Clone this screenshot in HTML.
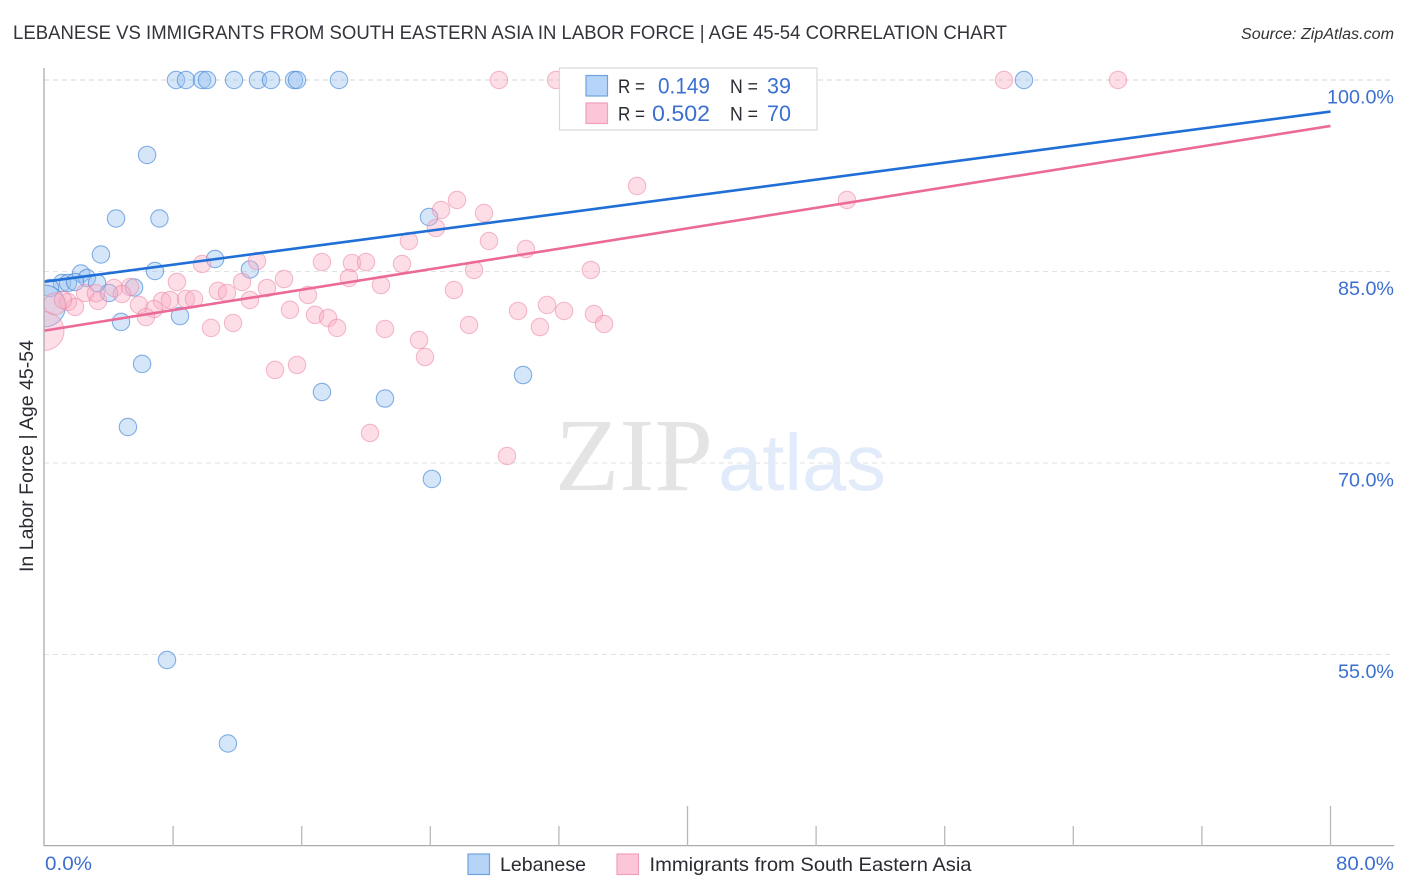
<!DOCTYPE html>
<html lang="en">
<head>
<meta charset="utf-8">
<title>Lebanese vs Immigrants from South Eastern Asia in Labor Force | Age 45-54 Correlation Chart</title>
<style>
html,body{margin:0;padding:0;background:#fff;width:1406px;height:892px;overflow:hidden}
svg{display:block;font-family:"Liberation Sans",sans-serif}
</style>
</head>
<body>
<svg id="chart" width="1406" height="892" viewBox="0 0 1406 892" xmlns="http://www.w3.org/2000/svg">
  <defs><clipPath id="plot-clip"><rect x="44" y="60" width="1350" height="786"/></clipPath></defs>
  <text x="13" y="39" font-size="19.5" fill="#33333b" textLength="994" lengthAdjust="spacingAndGlyphs">LEBANESE VS IMMIGRANTS FROM SOUTH EASTERN ASIA IN LABOR FORCE | AGE 45-54 CORRELATION CHART</text>
  <text x="1241" y="39" font-size="15.5" font-style="italic" fill="#333" textLength="153" lengthAdjust="spacingAndGlyphs">Source: ZipAtlas.com</text>

  <g id="grid"></g>

  <g>
    <text x="555" y="490" font-family="'Liberation Serif',serif" font-size="104" fill="#e4e4e4" textLength="158" lengthAdjust="spacingAndGlyphs">ZIP</text>
    <text x="718" y="490" font-size="80" fill="#e1ebfa" textLength="168" lengthAdjust="spacingAndGlyphs">atlas</text>
  </g>

  <g id="points-blue" clip-path="url(#plot-clip)"></g>
  <g id="points-pink" clip-path="url(#plot-clip)"></g>
  <g id="trends"></g>

  <g id="axes">
    <line x1="44" y1="68" x2="44" y2="846" stroke="#ababab" stroke-width="1.3"/>
    <line x1="44" y1="845.6" x2="1394" y2="845.6" stroke="#ababab" stroke-width="1.3"/>
  </g>
  <g id="x-ticks"></g>
  <g id="y-labels"></g>
  <g id="x-labels"></g>

  <text transform="translate(33,572) rotate(-90)" font-size="19" fill="#2b2b33" textLength="232" lengthAdjust="spacingAndGlyphs">In Labor Force | Age 45-54</text>

  <g>
    <rect x="559.5" y="68" width="257.5" height="62" fill="#fff" stroke="#d9d9d9" stroke-width="1.2"/>
    <rect x="586" y="75.5" width="21.5" height="20.5" fill="#b6d3f8" stroke="#6fa3e0" stroke-width="1.2"/>
    <rect x="586" y="103" width="21.5" height="20.5" fill="#fcc6d8" stroke="#f0a0bb" stroke-width="1.2"/>
    <text x="618" y="93" font-size="19.5" fill="#2b2b33" textLength="27" lengthAdjust="spacingAndGlyphs">R =</text>
    <text x="658" y="93.5" font-size="22" fill="#3b6fd0" textLength="52" lengthAdjust="spacingAndGlyphs">0.149</text>
    <text x="730" y="93" font-size="19.5" fill="#2b2b33" textLength="28" lengthAdjust="spacingAndGlyphs">N =</text>
    <text x="767" y="93.5" font-size="22" fill="#3b6fd0" textLength="24" lengthAdjust="spacingAndGlyphs">39</text>
    <text x="618" y="120.5" font-size="19.5" fill="#2b2b33" textLength="27" lengthAdjust="spacingAndGlyphs">R =</text>
    <text x="652" y="121" font-size="22" fill="#3b6fd0" textLength="58" lengthAdjust="spacingAndGlyphs">0.502</text>
    <text x="730" y="120.5" font-size="19.5" fill="#2b2b33" textLength="28" lengthAdjust="spacingAndGlyphs">N =</text>
    <text x="767" y="121" font-size="22" fill="#3b6fd0" textLength="24" lengthAdjust="spacingAndGlyphs">70</text>
  </g>

  <g>
    <rect x="468" y="854" width="21.5" height="20.5" fill="#b6d3f8" stroke="#6fa3e0" stroke-width="1.2"/>
    <text x="500" y="871" font-size="19.5" fill="#2b2b33" textLength="86" lengthAdjust="spacingAndGlyphs">Lebanese</text>
    <rect x="617" y="854" width="21.5" height="20.5" fill="#fcc6d8" stroke="#f0a0bb" stroke-width="1.2"/>
    <text x="649.5" y="871" font-size="19.5" fill="#2b2b33" textLength="322" lengthAdjust="spacingAndGlyphs">Immigrants from South Eastern Asia</text>
  </g>
</svg>
<script>
const yTickValues = [100, 85, 70, 55];
const yTickLabels = ['100.0%', '85.0%', '70.0%', '55.0%'];
const xTickValues = [8, 16, 24, 32, 40, 48, 56, 64, 72, 80];
const xMajorTicks = [40, 80];
const xEndValues = [0, 80];
const xEndLabels = ['0.0%', '80.0%'];

const lebaneseX = [8.18, 8.80, 9.80, 10.11, 11.79, 13.28, 14.09, 15.52, 15.71, 18.32, 60.93,
  6.38, 4.45, 7.15, 3.51, 23.92, 10.61, 6.87, 12.78, 2.27, 2.64,
  1.09, 1.46, 1.90, 3.27, 5.57, 4.01, 0.34, 0.0, 8.43, 4.76,
  6.07, 17.26, 21.18, 29.77, 5.19, 24.10, 7.62, 11.41];
const lebaneseY = [100, 100, 100, 100, 100, 100, 100, 100, 100, 100, 100,
  94.13, 89.15, 89.15, 86.33, 89.27, 85.98, 85.04, 85.16, 84.84, 84.49,
  84.10, 84.10, 84.18, 84.10, 83.75, 83.32, 83.71, 82.30, 81.51, 81.05,
  77.76, 75.56, 75.05, 76.89, 72.82, 68.75, 54.57, 48.03];
const lebaneseWeight = [1, 1, 1, 1, 1, 1, 1, 1, 1, 1, 1,
  1, 1, 1, 1, 1, 1, 1, 1, 1, 1,
  1, 1, 1, 1, 1, 1, 1, 5.8, 1, 1,
  1, 1, 1, 1, 1, 1, 1, 1];

const immigrantsX = [28.27, 31.82, 59.69, 66.78, 36.86, 49.92, 25.66, 24.67, 27.34, 24.35,
  22.67, 27.65, 29.95, 9.80, 13.22, 17.26, 19.13, 20.0, 22.24, 26.72,
  33.99, 14.90, 18.94, 8.24, 12.29, 20.93, 25.47, 13.84, 10.79, 11.35,
  4.32, 5.32, 2.52, 4.82, 8.80, 9.30, 7.31, 7.81, 12.78, 16.39,
  5.88, 3.33, 1.46, 1.90, 6.81, 6.31, 15.27, 16.83, 17.64, 29.46,
  31.26, 32.32, 34.18, 10.36, 11.73, 18.20, 21.18, 26.41, 30.82, 34.81,
  23.30, 23.67, 14.34, 15.71, 20.25, 28.77, 0.0, 0.65, 1.15, 3.2];
const immigrantsY = [100, 100, 100, 100, 91.70, 90.60, 90.60, 89.82, 89.58, 88.41,
  87.39, 87.39, 86.76, 85.59, 85.82, 85.74, 85.67, 85.74, 85.59, 85.12,
  85.12, 84.41, 84.49, 84.18, 84.18, 83.94, 83.55, 83.71, 83.48, 83.32,
  83.71, 83.79, 83.32, 83.24, 82.85, 82.85, 82.69, 82.77, 82.77, 83.16,
  82.38, 82.69, 82.61, 82.22, 82.06, 81.43, 82.0, 81.60, 81.36, 81.91,
  82.38, 81.91, 81.67, 80.58, 80.97, 80.58, 80.50, 80.81, 80.65, 80.89,
  79.63, 78.30, 77.29, 77.68, 72.35, 70.55, 80.34, 82.46, 82.77, 83.3];
const immigrantsWeight = [1, 1, 1, 1, 1, 1, 1, 1, 1, 1,
  1, 1, 1, 1, 1, 1, 1, 1, 1, 1,
  1, 1, 1, 1, 1, 1, 1, 1, 1, 1,
  1, 1, 1, 1, 1, 1, 1, 1, 1, 1,
  1, 1, 1, 1, 1, 1, 1, 1, 1, 1,
  1, 1, 1, 1, 1, 1, 1, 1, 1, 1,
  1, 1, 1, 1, 1, 1, 5, 1.6, 1, 1];

const trendX = [0, 80];
const lebaneseTrendY = [84.2, 97.53];
const immigrantsTrendY = [80.37, 96.40];

const SVGNS = 'http://www.w3.org/2000/svg';
function xScale(v) { return 44.5 + v * (1330.5 - 44.5) / 80; }
function yScale(v) { return 80 + (100 - v) * (654.5 - 80) / 45; }
function rScale(w) { return 8.7 * Math.sqrt(w); }
function make(tag, parentId, props) {
  const el = document.createElementNS(SVGNS, tag);
  for (const k in props) el.setAttribute(k, props[k]);
  document.getElementById(parentId).appendChild(el);
  return el;
}

yTickValues.forEach(function (v, i) {
  const line = make('line', 'grid', { x1: 44, x2: 1394, y1: yScale(v), y2: yScale(v), stroke: i === 0 ? '#d4d4d4' : '#e2e2e2', 'stroke-width': 1, 'stroke-dasharray': '5 4' });
  
  
  const label = make('text', 'y-labels', { x: 1394, y: yScale(v) + 23.3, 'text-anchor': 'end', 'font-size': 19.5, fill: '#3b6fd0', textLength: i === 0 ? 67 : 56, lengthAdjust: 'spacingAndGlyphs' });
  label.textContent = yTickLabels[i];
  
  
});

xTickValues.forEach(function (v) {
  const top = xMajorTicks.indexOf(v) >= 0 ? 806 : 826;
  const tick = make('line', 'x-ticks', { x1: xScale(v), x2: xScale(v), y1: top, y2: 846, stroke: '#b8b8b8', 'stroke-width': 1.3 });
  
  
});

xEndValues.forEach(function (v, i) {
  const label = make('text', 'x-labels', { x: i === 0 ? 45 : 1336, y: 870, 'font-size': 19.5, fill: '#3b6fd0', textLength: i === 0 ? 47 : 58, lengthAdjust: 'spacingAndGlyphs' });
  label.textContent = xEndLabels[i];
  
  
});

lebaneseX.forEach(function (v, i) {
  const dot = make('circle', 'points-blue', { cx: xScale(v), cy: yScale(lebaneseY[i]), r: rScale(lebaneseWeight[i]), fill: 'rgba(150,192,240,0.4)', stroke: 'rgba(70,135,215,0.65)', 'stroke-width': 1.1 });
  
  
});

immigrantsX.forEach(function (v, i) {
  const dot = make('circle', 'points-pink', { cx: xScale(v), cy: yScale(immigrantsY[i]), r: rScale(immigrantsWeight[i]), fill: 'rgba(250,172,195,0.4)', stroke: 'rgba(235,135,165,0.55)', 'stroke-width': 1.1 });
  
  
});

const blueTrend = make('line', 'trends', { x1: xScale(trendX[0]), y1: yScale(lebaneseTrendY[0]), x2: xScale(trendX[1]), y2: yScale(lebaneseTrendY[1]), stroke: '#1f6fd6', 'stroke-width': 2.6 });


const pinkTrend = make('line', 'trends', { x1: xScale(trendX[0]), y1: yScale(immigrantsTrendY[0]), x2: xScale(trendX[1]), y2: yScale(immigrantsTrendY[1]), stroke: '#ec6a98', 'stroke-width': 2.6 });


</script>
</body>
</html>
